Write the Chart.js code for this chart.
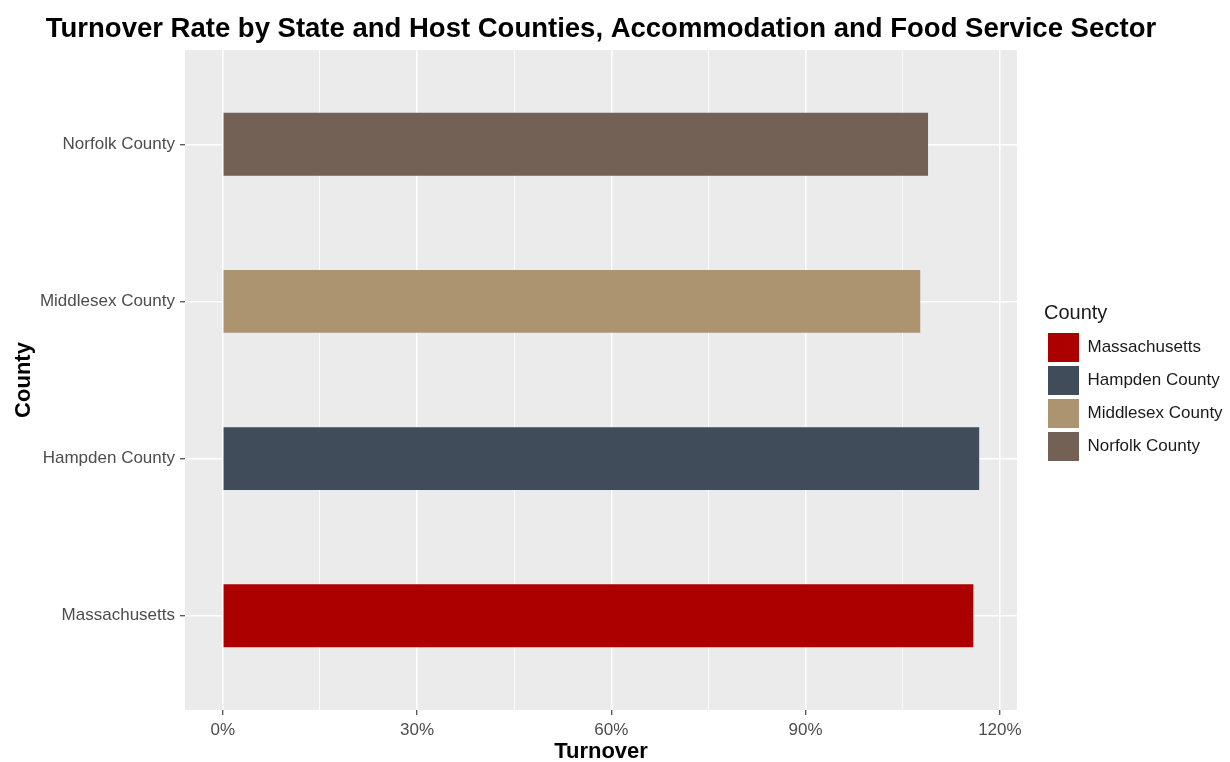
<!DOCTYPE html>
<html>
<head>
<meta charset="utf-8">
<script src="https://cdn.jsdelivr.net/npm/chart.js@4/dist/chart.umd.min.js"></script>
<style>
  html, body { margin: 0; padding: 0; background: #ffffff; }
  #wrap { width: 1230px; height: 762px; position: relative; }
</style>
</head>
<body>
<div id="wrap"><canvas id="c"></canvas></div>
<script>
// ---- data ----
const chartTitle = 'Turnover Rate by State and Host Counties, Accommodation and Food Service Sector';
const categories = ['Massachusetts', 'Hampden County', 'Middlesex County', 'Norfolk County'];
const turnover = [115.9, 116.8, 107.7, 108.9];           // percent
const majorTicks = [0, 30, 60, 90, 120];                  // labelled x ticks (%)
const minorTicks = [15, 45, 75, 105];                     // minor grid lines (%)
const palette = ['#AC0000', '#414C5A', '#AC9470', '#736156'];

// ggplot-style expansion of the value axis (5% of the data max on each side)
const maxVal = Math.max(...turnover);
const xMin = -0.05 * maxVal;
const xMax = 1.05 * maxVal;

Chart.defaults.font.family = "'Liberation Sans', Arial, sans-serif";
Chart.defaults.color = '#4D4D4D';

const datasets = categories.map((c, i) => ({
  label: c,
  data: [{ x: turnover[i], y: i + 1 }],
  backgroundColor: palette[i],
  borderWidth: 0,
  grouped: false,
  categoryPercentage: 0.4,
  barPercentage: 1.0
}));

const panelBg = {
  id: 'panelBg',
  beforeDraw(chart) {
    const { ctx, chartArea: a } = chart;
    ctx.save();
    ctx.fillStyle = '#ffffff';
    ctx.fillRect(0, 0, chart.width, chart.height);
    ctx.fillStyle = '#EBEBEB';
    ctx.fillRect(a.left, a.top, a.right - a.left, a.bottom - a.top);
    ctx.restore();
  }
};

const titlePlugin = {
  id: 'ggTitle',
  afterDraw(chart) {
    const { ctx, chartArea: a } = chart;
    ctx.save();
    ctx.font = "bold 27.5px 'Liberation Sans', Arial, sans-serif";
    ctx.fillStyle = '#000000';
    ctx.textAlign = 'center';
    ctx.textBaseline = 'alphabetic';
    ctx.fillText(chartTitle, (a.left + a.right) / 2, 37);
    ctx.restore();
  }
};

const allX = majorTicks.concat(minorTicks).sort((a, b) => a - b);
const isMajor = v => majorTicks.includes(v);

new Chart(document.getElementById('c'), {
  type: 'bar',
  data: { datasets },
  plugins: [panelBg, titlePlugin],
  options: {
    indexAxis: 'y',
    responsive: true,
    maintainAspectRatio: false,
    animation: false,
    layout: { padding: { top: 50, left: 0, right: 0, bottom: 0 } },
    scales: {
      x: {
        type: 'linear',
        position: 'bottom',
        min: xMin,
        max: xMax,
        afterBuildTicks: s => { s.ticks = allX.map(v => ({ value: v })); },
        afterFit: s => { s.height = 52; },
        ticks: {
          autoSkip: false,
          maxRotation: 0,
          padding: 5,
          color: '#4D4D4D',
          font: { size: 17 },
          callback: v => isMajor(v) ? v + '%' : ''
        },
        grid: {
          color: '#FFFFFF',
          lineWidth: c => (c.tick && isMajor(c.tick.value)) ? 1.5 : 0.8,
          tickColor: c => (c.tick && isMajor(c.tick.value)) ? '#333333' : 'rgba(0,0,0,0)',
          tickWidth: 1.1,
          tickLength: 5,
          offset: false
        },
        border: { display: false },
        title: {
          display: true,
          text: 'Turnover',
          color: '#000000',
          font: { size: 22, weight: 'bold', lineHeight: 1.05 },
          padding: { top: 0, bottom: -1 }
        }
      },
      y: {
        type: 'linear',
        position: 'left',
        min: 0.4,
        max: 4.6,
        offset: false,
        afterBuildTicks: s => { s.ticks = categories.map((c, i) => ({ value: i + 1 })); },
        afterFit: s => { s.width = 185; },
        ticks: {
          autoSkip: false,
          padding: 5,
          color: '#4D4D4D',
          font: { size: 17 },
          callback: v => categories[Math.round(v) - 1] || ''
        },
        grid: {
          color: '#FFFFFF',
          lineWidth: 1.5,
          tickColor: '#333333',
          tickWidth: 1.1,
          tickLength: 5,
          offset: false
        },
        border: { display: false },
        title: {
          display: true,
          text: 'County',
          color: '#000000',
          font: { size: 22, weight: 'bold', lineHeight: 1.05 },
          padding: { top: 12, bottom: 0 }
        }
      },
      gap: {
        type: 'linear',
        axis: 'y',
        position: 'right',
        display: true,
        min: 0,
        max: 1,
        afterFit: s => { s.width = 27; },
        ticks: { display: false },
        grid: { display: false, drawTicks: false },
        border: { display: false }
      }
    },
    plugins: {
      legend: {
        display: true,
        position: 'right',
        align: 'center',
        fullSize: false,
        maxWidth: 186,
        title: {
          display: true,
          text: 'County',
          color: '#1A1A1A',
          position: 'start',
          font: { size: 20 },
          padding: { top: 8, bottom: 2 }
        },
        labels: {
          boxWidth: 31,
          boxHeight: 29,
          padding: 4,
          color: '#1A1A1A',
          font: { size: 17 }
        }
      },
      tooltip: { enabled: false },
      title: { display: false }
    }
  }
});
</script>
</body>
</html>
